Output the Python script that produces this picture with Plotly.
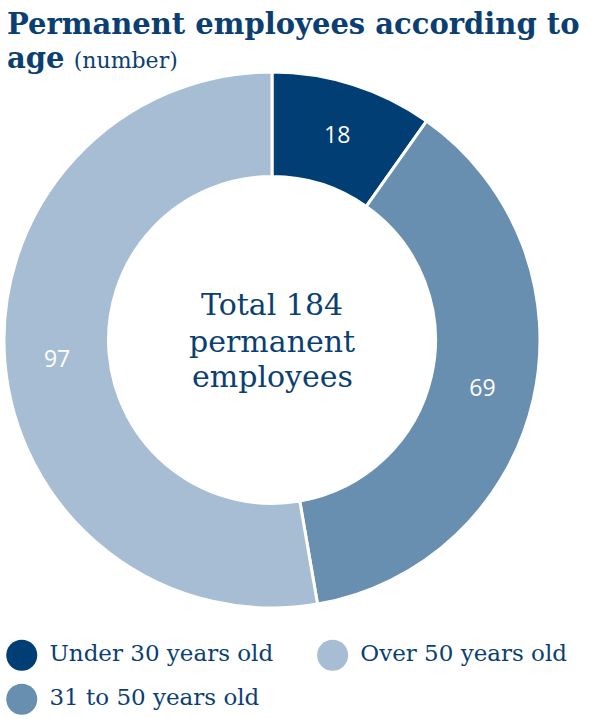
import plotly.graph_objects as go

# ---- data ----
categories = ["Under 30 years old", "31 to 50 years old", "Over 50 years old"]
values = [18, 69, 97]
colors = ["#003e74", "#688eb0", "#a7bdd4"]
legend_order = ["Under 30 years old", "Over 50 years old", "31 to 50 years old"]
total_lines = ["Total 184", "permanent", "employees"]
title_line1 = "Permanent employees according to"
title_line2 = "age"
title_sub = "(number)"

TEXT_COLOR = "#0b3f72"
SERIF = "DejaVu Serif"
W, H = 600, 719

fig = go.Figure()

fig.add_trace(go.Pie(
    labels=categories,
    values=values,
    marker=dict(colors=colors, line=dict(color="white", width=3)),
    hole=0.61,
    sort=False,
    direction="clockwise",
    rotation=0,
    textinfo="value",
    textposition="inside",
    insidetextorientation="horizontal",
    textfont=dict(family="Open Sans", size=23, color="white"),
    showlegend=False,
    hoverinfo="label+value",
    domain=dict(x=[4 / W, 540 / W], y=[1 - 608 / H, 1 - 72 / H]),
))

# Legend drawn as a small scatter on its own axes at the bottom
cmap = dict(zip(categories, colors))
col_x = [0, 1]
lx, ly = [], []
for i, name in enumerate(legend_order):
    lx.append(col_x[i % 2])
    ly.append(-(i // 2))
fig.add_trace(go.Scatter(
    x=lx, y=ly, mode="markers+text",
    marker=dict(size=31, color=[cmap[n] for n in legend_order], line=dict(width=0)),
    text=[" " + n for n in legend_order],
    textposition="middle right",
    textfont=dict(family=SERIF, size=23, color=TEXT_COLOR),
    showlegend=False, hoverinfo="skip",
    xaxis="x", yaxis="y",
))

annotations = [
    dict(
        text="<b>" + title_line1 + "</b>", x=5 / W, y=1 - 24 / H,
        xref="paper", yref="paper", xanchor="left", yanchor="middle", showarrow=False,
        font=dict(family=SERIF, size=29, color=TEXT_COLOR),
    ),
    dict(
        text="<b>" + title_line2 + "</b> <span style='font-size:22px'>" + title_sub + "</span>",
        x=5 / W, y=1 - 58 / H,
        xref="paper", yref="paper", xanchor="left", yanchor="middle", showarrow=False,
        font=dict(family=SERIF, size=29, color=TEXT_COLOR),
    ),
]
line_y = [305, 341, 377]
for txt, yy in zip(total_lines, line_y):
    annotations.append(dict(
        text=txt, x=272 / W, y=1 - yy / H, xref="paper", yref="paper",
        xanchor="center", yanchor="middle", showarrow=False,
        font=dict(family=SERIF, size=30, color=TEXT_COLOR),
    ))

fig.update_layout(
    width=W, height=H,
    margin=dict(l=0, r=0, t=0, b=0),
    paper_bgcolor="white", plot_bgcolor="white",
    xaxis=dict(domain=[0, 1], range=[-0.07, 1.86], visible=False, fixedrange=True),
    yaxis=dict(domain=[0, 88 / H], range=[-1.45, 0.55], visible=False, fixedrange=True),
    annotations=annotations,
)

fig.write_html("out.html", config={"displayModeBar": False},
               post_script="document.body.style.margin='0px';")
